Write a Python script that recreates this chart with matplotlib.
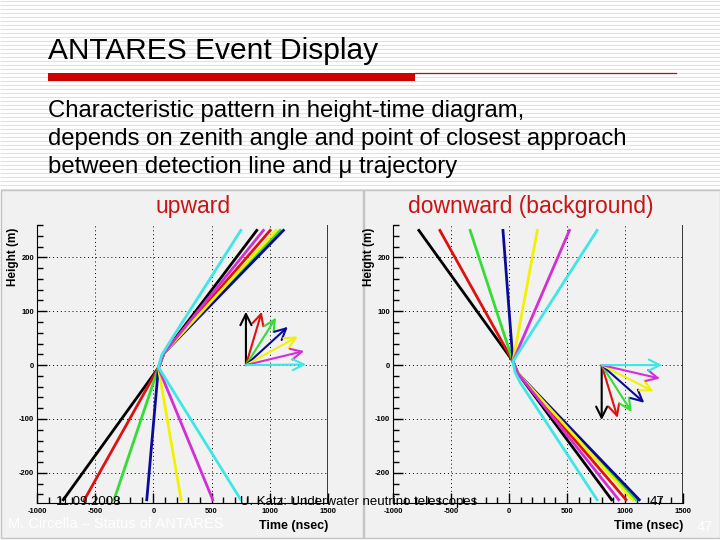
import matplotlib.pyplot as plt
from matplotlib.ticker import MultipleLocator
from matplotlib.patches import Rectangle

plt.rcParams['font.family'] = ['Liberation Sans', 'DejaVu Sans']
plt.rcParams['axes.unicode_minus'] = False

# track colours (zenith steps of 15 deg)
colours = ['black', '#dd1111', '#33dd33', '#0a0a99', '#f2f200', '#d52dd5', '#3ee6e6']

# upward tracks: time (ns) at given heights (m)
up_t = [
    [-774, 43, 90, 888],
    [-593, 43, 90, 1003],
    [-338, 43, 90, 1089],
    [-57, 43, 90, 1117],
    [238, 43, 90, 1054],
    [510, 43, 90, 945],
    [751, 43, 72, 115, 751],
]
up_h = [[-250, -5, 22, 250]] * 6 + [[-250, -4, 19, 34, 250]]

# downward tracks
dn_t = [
    [-777, 34, 75, 885],
    [-596, 34, 75, 1009],
    [-335, 34, 75, 1095],
    [-52, 34, 75, 1123],
    [244, 34, 75, 1066],
    [521, 34, 75, 946],
    [759, 34, 50, 95, 759],
]
dn_h = [[250, 7, -15, -250]] * 6 + [[250, 7, -12, -32, -250]]

# direction arrows (start and tips)
up_arrow_start = (795, 0)
up_arrow_t = [795, 931, 1054, 1155, 1241, 1295, 1312]
up_arrow_h = [99, 99, 88, 71, 53, 26, 1]
dn_arrow_start = (799, 0)
dn_arrow_t = [799, 937, 1057, 1166, 1246, 1301, 1321]
dn_arrow_h = [-102, -98, -87, -70, -49, -25, 0]

fig = plt.figure(figsize=(7.2, 5.4), dpi=100)

# slide background
bg = fig.add_axes([0, 0, 1, 1], zorder=-1)
bg.set_xlim(0, 720)
bg.set_ylim(540, 0)
bg.axis('off')
bg.hlines([y + 0.5 for y in range(0, 540, 4)], 0, 720, color='#e2e2e2', lw=0.8, zorder=1)
bg.add_patch(Rectangle((1, 190), 362, 348, facecolor='#f1f1f1', edgecolor='#c4c4c4', lw=1, zorder=3))
bg.add_patch(Rectangle((364, 190), 356, 348, facecolor='#f1f1f1', edgecolor='#c4c4c4', lw=1, zorder=3))
bg.add_patch(Rectangle((48, 72.5), 367, 8, facecolor='#cc0000', edgecolor='none', zorder=3))
bg.plot([415, 676], [72.5, 72.5], color='#aa1111', lw=0.9, zorder=3)
bg.text(48, 51, 'ANTARES Event Display', fontsize=21.5, va='center', ha='left', zorder=4)
body = ['Characteristic pattern in height-time diagram,',
        'depends on zenith angle and point of closest approach',
        'between detection line and \u03bc trajectory']
for i, line in enumerate(body):
    bg.text(48, 111 + 28 * i, line, fontsize=17.2, va='center', ha='left', zorder=4)
bg.text(193, 207, 'upward', color='#c81414', fontsize=16.5, ha='center', va='center', zorder=4)
bg.text(531, 207, 'downward (background)', color='#c81414', fontsize=16.5,
        ha='center', va='center', zorder=4)


def style(ax):
    ax.set_xlim(-1000, 1500)
    ax.set_ylim(-256, 260)
    ax.set_facecolor('none')
    ax.spines['top'].set_visible(False)
    ax.spines['right'].set_visible(False)
    ax.axvline(1500, color='black', lw=1.8)
    ax.xaxis.set_major_locator(MultipleLocator(500))
    ax.xaxis.set_minor_locator(MultipleLocator(100))
    ax.yaxis.set_major_locator(MultipleLocator(100))
    ax.yaxis.set_minor_locator(MultipleLocator(20))
    ax.tick_params(direction='in', which='major', length=7, width=1)
    ax.tick_params(direction='in', which='minor', length=4, width=1)
    ax.tick_params(axis='x', pad=3.5, labelsize=5.5)
    ax.tick_params(axis='y', pad=2, labelsize=5.5)
    for lab in ax.get_xticklabels() + ax.get_yticklabels():
        lab.set_fontweight('bold')
    ax.grid(True, which='major', ls=(0, (1, 3)), color='black', lw=0.7)
    ax.set_ylabel('Height (m)', fontweight='bold', fontsize=8.5, loc='top')
    ax.yaxis.set_label_coords(-0.062, 0.99)
    ax.set_xlabel('Time (nsec)', fontweight='bold', fontsize=9, loc='right')
    ax.xaxis.set_label_coords(1.0, -0.06)


arrow_style = '->,head_length=0.8,head_width=0.4'

ax1 = fig.add_axes([37 / 720, 37 / 540, 291 / 720, 278 / 540])
style(ax1)
for t, h, c in zip(up_t, up_h, colours):
    ax1.plot(t, h, color=c, lw=2)
for t, h, c in zip(up_arrow_t, up_arrow_h, colours):
    ax1.annotate('', xy=(t, h), xytext=up_arrow_start,
                 arrowprops=dict(arrowstyle=arrow_style, color=c, lw=1.5,
                                 shrinkA=0, shrinkB=0))

ax2 = fig.add_axes([393 / 720, 37 / 540, 290 / 720, 278 / 540])
style(ax2)
for t, h, c in zip(dn_t, dn_h, colours):
    ax2.plot(t, h, color=c, lw=2)
for t, h, c in zip(dn_arrow_t, dn_arrow_h, colours):
    ax2.annotate('', xy=(t, h), xytext=dn_arrow_start,
                 arrowprops=dict(arrowstyle=arrow_style, color=c, lw=1.5,
                                 shrinkA=0, shrinkB=0))


# footer overlays
def ftext(x, y, s, **kw):
    fig.text(x / 720, 1 - y / 540, s, va='center', **kw)


ftext(56, 502, '11.09.2008', fontsize=9.5)
ftext(240, 502, 'U. Katz: Underwater neutrino telescopes', fontsize=9.5)
ftext(650, 502, '47', fontsize=9.5)
ftext(8, 524, 'M. Circella \u2013 Status of ANTARES', fontsize=10.5, color='white')
ftext(697, 527, '47', fontsize=10.5, color='white')

fig.savefig('out.png', dpi=100)
